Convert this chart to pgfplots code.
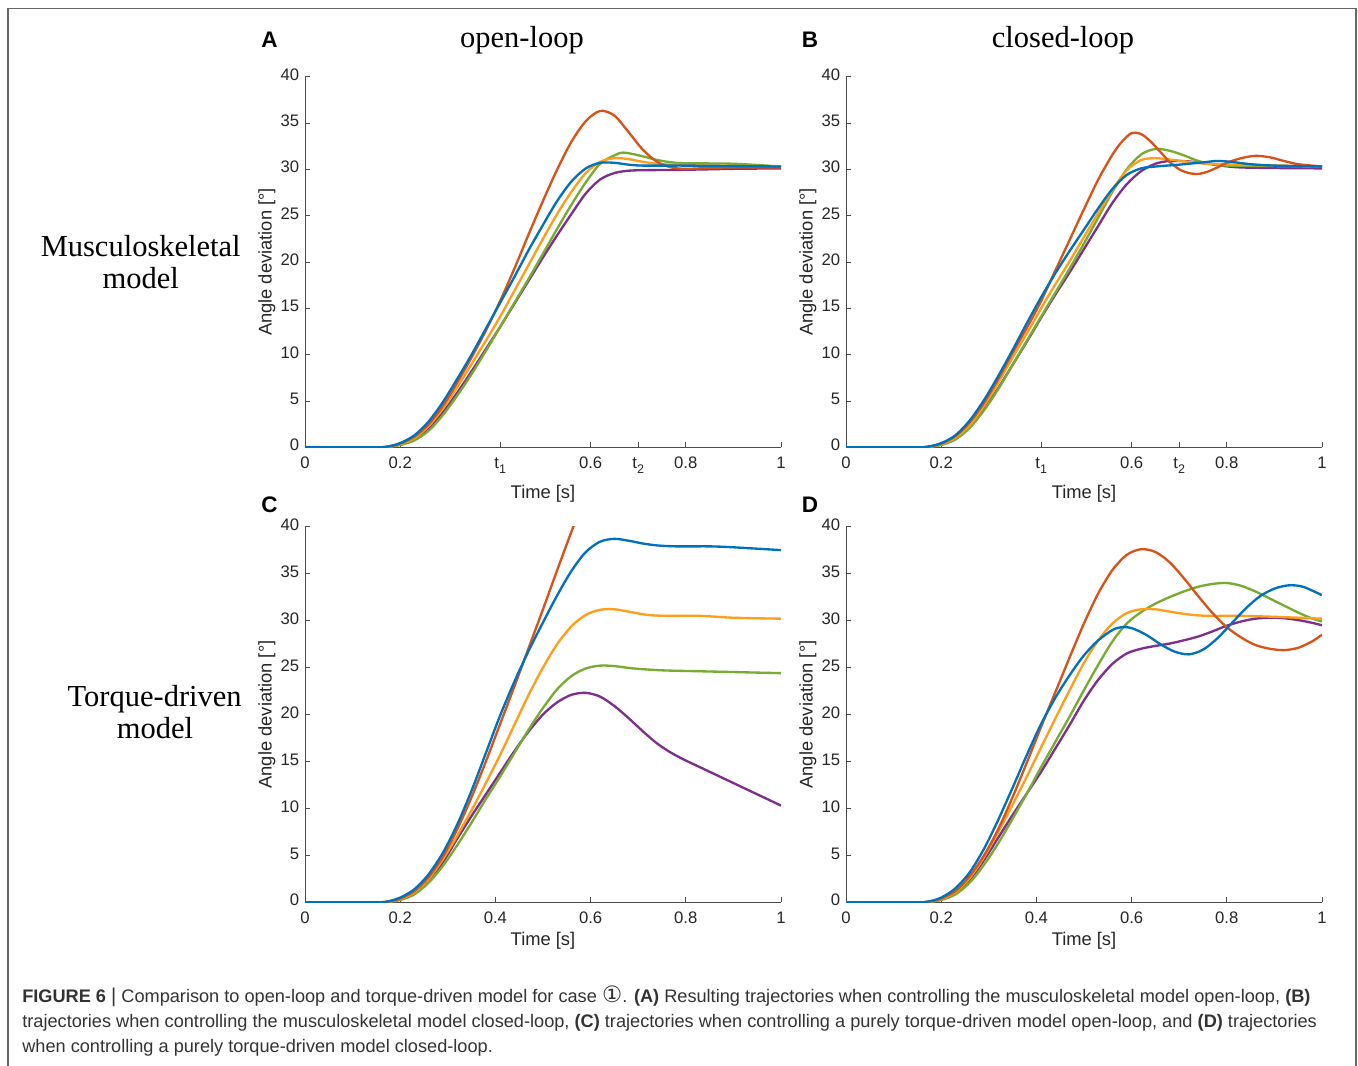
\documentclass[border=0pt]{standalone}
\usepackage{pgfplots}
\pgfplotsset{compat=1.18}
\usepackage{fontspec}
\setmainfont{Liberation Sans}
\newfontfamily\seriffont{Liberation Serif}
\newfontfamily\dejavu{DejaVu Sans}
\definecolor{mblue}{HTML}{0072BD}
\definecolor{mred}{HTML}{D95319}
\definecolor{morange}{HTML}{FF9E1B}
\definecolor{mpurple}{HTML}{7E2F8E}
\definecolor{mgreen}{HTML}{77AC30}
\newcommand{\p}[2]{({#1*0.6pt},{-#2*0.6pt})}
\newcommand{\tsub}[1]{t\raisebox{-0.55ex}{\fontsize{7.5}{8}\selectfont #1}}
\pgfplotsset{
  panel/.style={
    scale only axis, width=285.6pt,
    xmin=0, xmax=1, ymin=0, ymax=40,
    axis x line*=bottom, axis y line*=left,
    tick align=inside, major tick length=3pt,
    ytick={0,5,...,40},
    axis line style={draw=black!70, line width=0.55pt},
    tick style={draw=black!70, line width=0.55pt},
    ticklabel style={font=\fontsize{10}{11}\selectfont, text=black!85},
    xticklabel style={yshift=-1.5pt},
    typeset ticklabels with strut,
    /pgf/number format/assume math mode=true,
    xlabel={Time [s]}, ylabel={Angle deviation [°]},
    label style={font=\fontsize{11}{12}\selectfont, text=black!85},
    ylabel style={at={(axis description cs:-0.08,0.5)}, anchor=center},
    every axis plot/.append style={line width=1.4pt, smooth, no markers},
  },
  pab/.style={panel, height=222.4pt,
    xtick={0,0.2,0.41,0.6,0.7,0.8,1},
    xticklabels={0,0.2,\tsub{1},0.6,\tsub{2},0.8,1},
    xlabel style={at={(axis description cs:0.5,-0.124)}, anchor=center}},
  pcd/.style={panel, height=225.4pt,
    xtick={0,0.2,0.4,0.6,0.8,1},
    xlabel style={at={(axis description cs:0.5,-0.103)}, anchor=center}},
}
\begin{document}
\begin{tikzpicture}
\useasboundingbox (0,0) rectangle (814.8pt,-639.6pt);
\fill[white] (0,0) rectangle (814.8pt,-639.6pt);
\draw[black!60, line width=0.9pt] \p{8}{1066} -- \p{8}{8.5} -- \p{1356}{8.5} -- \p{1356}{1066};

% ---------------- A ----------------
\begin{axis}[pab, at={(183pt,-268.38pt)}, anchor=south west]
\addplot[mpurple] coordinates {(0,0) (0.14,0) (0.17,0.02) (0.2,0.3) (0.23,0.85) (0.26,2.0) (0.29,3.8) (0.32,5.9) (0.35,8.2) (0.38,10.6) (0.41,13.0) (0.44,15.5) (0.47,18.0) (0.50,20.5) (0.53,22.9) (0.56,25.2) (0.59,27.4) (0.62,28.9) (0.65,29.6) (0.68,29.85) (0.71,29.9) (0.8,29.95) (0.9,30.05) (1,30.1)};
\addplot[mgreen] coordinates {(0,0) (0.14,0) (0.17,0.02) (0.2,0.25) (0.23,0.75) (0.26,1.8) (0.29,3.5) (0.32,5.6) (0.35,7.9) (0.38,10.4) (0.41,13.0) (0.44,15.6) (0.47,18.2) (0.50,20.9) (0.53,23.6) (0.56,26.2) (0.59,28.6) (0.62,30.6) (0.65,31.5) (0.67,31.8) (0.71,31.4) (0.74,31.0) (0.77,30.75) (0.8,30.65) (0.9,30.6) (1,30.3)};
\addplot[morange] coordinates {(0,0) (0.14,0) (0.17,0.03) (0.2,0.35) (0.23,1.0) (0.26,2.3) (0.29,4.2) (0.32,6.5) (0.35,9.0) (0.38,11.5) (0.41,14.1) (0.44,16.9) (0.47,19.7) (0.50,22.5) (0.53,25.2) (0.56,27.6) (0.59,29.6) (0.62,30.8) (0.65,31.2) (0.68,31.1) (0.71,30.8) (0.74,30.6) (0.77,30.5) (0.85,30.4) (1,30.3)};
\addplot[mred] coordinates {(0,0) (0.14,0) (0.17,0.04) (0.2,0.4) (0.23,1.15) (0.26,2.5) (0.29,4.5) (0.32,7.0) (0.35,9.7) (0.38,12.6) (0.41,15.8) (0.44,19.3) (0.47,23.0) (0.50,26.6) (0.53,30.0) (0.56,33.0) (0.59,35.2) (0.62,36.3) (0.65,35.8) (0.68,34.0) (0.71,32.1) (0.74,30.8) (0.77,30.2) (0.80,30.05) (0.85,30.15) (0.9,30.2) (1,30.2)};
\addplot[mblue] coordinates {(0,0) (0.14,0) (0.17,0.05) (0.2,0.45) (0.23,1.3) (0.26,2.8) (0.29,4.9) (0.32,7.4) (0.35,10.0) (0.38,12.8) (0.41,15.6) (0.44,18.4) (0.47,21.3) (0.50,24.0) (0.53,26.6) (0.56,28.7) (0.59,30.1) (0.62,30.7) (0.65,30.7) (0.68,30.5) (0.71,30.4) (0.8,30.4) (0.9,30.35) (1,30.3)};
\end{axis}

% ---------------- B ----------------
\begin{axis}[pab, at={(507.6pt,-268.38pt)}, anchor=south west]
\addplot[mpurple] coordinates {(0,0) (0.14,0) (0.17,0.02) (0.2,0.3) (0.23,0.9) (0.26,2.2) (0.29,4.1) (0.32,6.4) (0.35,8.9) (0.38,11.4) (0.41,14.0) (0.44,16.5) (0.47,18.9) (0.50,21.4) (0.53,23.9) (0.56,26.4) (0.59,28.4) (0.62,29.8) (0.65,30.6) (0.68,30.9) (0.72,30.85) (0.76,30.6) (0.83,30.2) (1,30.1)};
\addplot[mgreen] coordinates {(0,0) (0.14,0) (0.17,0.02) (0.2,0.25) (0.23,0.85) (0.26,2.1) (0.29,4.0) (0.32,6.3) (0.35,8.9) (0.38,11.5) (0.41,14.1) (0.44,16.7) (0.47,19.3) (0.50,22.0) (0.53,24.8) (0.56,27.6) (0.59,30.0) (0.62,31.6) (0.65,32.2) (0.68,32.0) (0.71,31.5) (0.74,30.9) (0.77,30.55) (0.8,30.4) (0.9,30.35) (1,30.3)};
\addplot[morange] coordinates {(0,0) (0.14,0) (0.17,0.03) (0.2,0.35) (0.23,1.05) (0.26,2.4) (0.29,4.5) (0.32,7.0) (0.35,9.7) (0.38,12.3) (0.41,15.0) (0.44,17.6) (0.47,20.1) (0.50,22.7) (0.53,25.3) (0.56,27.8) (0.59,29.9) (0.62,31.0) (0.65,31.2) (0.68,31.05) (0.72,30.8) (0.76,30.6) (0.83,30.5) (1,30.3)};
\addplot[mred] coordinates {(0,0) (0.14,0) (0.17,0.04) (0.2,0.4) (0.23,1.2) (0.26,2.7) (0.29,4.8) (0.32,7.4) (0.35,10.2) (0.38,12.9) (0.41,15.8) (0.44,19.1) (0.47,22.4) (0.50,25.7) (0.53,28.9) (0.56,31.6) (0.58,33.0) (0.60,33.9) (0.62,33.8) (0.64,33.0) (0.66,31.9) (0.68,30.8) (0.70,30.0) (0.72,29.6) (0.74,29.5) (0.76,29.75) (0.78,30.2) (0.80,30.7) (0.83,31.2) (0.86,31.45) (0.89,31.3) (0.92,30.9) (0.95,30.55) (1,30.3)};
\addplot[mblue] coordinates {(0,0) (0.14,0) (0.17,0.05) (0.2,0.45) (0.23,1.3) (0.26,2.9) (0.29,5.1) (0.32,7.7) (0.35,10.5) (0.38,13.4) (0.41,16.2) (0.44,18.8) (0.47,21.2) (0.50,23.5) (0.53,25.8) (0.56,27.9) (0.59,29.4) (0.62,30.1) (0.65,30.3) (0.7,30.5) (0.75,30.75) (0.78,30.9) (0.81,30.8) (0.85,30.55) (0.9,30.4) (1,30.3)};
\end{axis}

% ---------------- C ----------------
\begin{axis}[pcd, at={(183pt,-541.38pt)}, anchor=south west]
\addplot[mpurple] coordinates {(0,0) (0.14,0) (0.17,0.02) (0.2,0.3) (0.23,1.0) (0.26,2.3) (0.29,4.3) (0.32,6.8) (0.35,9.2) (0.38,11.5) (0.41,13.8) (0.44,16.1) (0.47,18.2) (0.50,20.0) (0.53,21.3) (0.56,22.1) (0.59,22.3) (0.62,21.9) (0.65,20.9) (0.68,19.6) (0.71,18.2) (0.74,16.9) (0.77,15.9) (0.80,15.1) (0.85,13.9) (0.9,12.7) (0.95,11.5) (1,10.3)};
\addplot[mgreen] coordinates {(0,0) (0.14,0) (0.17,0.02) (0.2,0.25) (0.23,0.85) (0.26,2.1) (0.29,3.9) (0.32,6.1) (0.35,8.5) (0.38,11.0) (0.41,13.4) (0.44,15.9) (0.47,18.4) (0.50,20.7) (0.53,22.7) (0.56,24.1) (0.59,24.9) (0.62,25.2) (0.65,25.15) (0.69,24.9) (0.75,24.7) (0.83,24.6) (1,24.4)};
\addplot[morange] coordinates {(0,0) (0.14,0) (0.17,0.03) (0.2,0.35) (0.23,1.1) (0.26,2.5) (0.29,4.6) (0.32,7.1) (0.35,9.8) (0.38,12.7) (0.41,15.7) (0.44,18.9) (0.47,22.1) (0.50,25.0) (0.53,27.5) (0.56,29.4) (0.59,30.6) (0.62,31.15) (0.65,31.2) (0.68,30.95) (0.72,30.6) (0.76,30.5) (0.83,30.5) (0.9,30.3) (1,30.2)};
\addplot[mred] coordinates {(0,0) (0.14,0) (0.17,0.04) (0.2,0.4) (0.23,1.2) (0.26,2.7) (0.29,4.9) (0.32,7.8) (0.35,11.2) (0.38,15.0) (0.41,19.0) (0.44,23.0) (0.47,27.1) (0.50,31.2) (0.53,35.4) (0.56,39.5) (0.59,43.6)};
\addplot[mblue] coordinates {(0,0) (0.14,0) (0.17,0.05) (0.2,0.5) (0.23,1.4) (0.26,3.0) (0.29,5.3) (0.32,8.3) (0.35,11.9) (0.38,15.9) (0.41,19.9) (0.44,23.5) (0.47,26.8) (0.50,29.8) (0.53,32.7) (0.56,35.3) (0.59,37.3) (0.62,38.4) (0.65,38.7) (0.68,38.5) (0.71,38.2) (0.74,38.0) (0.78,37.9) (0.85,37.9) (0.9,37.8) (1,37.5)};
\end{axis}

% ---------------- D ----------------
\begin{axis}[pcd, at={(507.6pt,-541.38pt)}, anchor=south west]
\addplot[mpurple] coordinates {(0,0) (0.14,0) (0.17,0.02) (0.2,0.3) (0.23,1.0) (0.26,2.4) (0.29,4.5) (0.32,6.9) (0.35,9.3) (0.38,11.6) (0.41,13.9) (0.44,16.4) (0.47,18.9) (0.50,21.5) (0.53,23.7) (0.56,25.4) (0.59,26.5) (0.62,27.0) (0.65,27.3) (0.68,27.55) (0.71,27.9) (0.74,28.3) (0.77,28.85) (0.80,29.45) (0.83,29.9) (0.86,30.2) (0.89,30.3) (0.92,30.25) (0.95,30.05) (0.98,29.75) (1,29.5)};
\addplot[mgreen] coordinates {(0,0) (0.14,0) (0.17,0.02) (0.2,0.25) (0.23,0.85) (0.26,2.1) (0.29,4.0) (0.32,6.3) (0.35,8.9) (0.38,11.6) (0.41,14.4) (0.44,17.1) (0.47,19.8) (0.50,22.6) (0.53,25.3) (0.56,27.8) (0.59,29.7) (0.62,30.9) (0.65,31.8) (0.68,32.5) (0.71,33.1) (0.74,33.6) (0.77,33.9) (0.80,34.0) (0.83,33.7) (0.86,33.1) (0.89,32.35) (0.92,31.6) (0.95,30.85) (0.98,30.2) (1,29.9)};
\addplot[morange] coordinates {(0,0) (0.14,0) (0.17,0.03) (0.2,0.35) (0.23,1.1) (0.26,2.6) (0.29,4.8) (0.32,7.5) (0.35,10.4) (0.38,13.4) (0.41,16.5) (0.44,19.6) (0.47,22.6) (0.50,25.5) (0.53,27.9) (0.56,29.7) (0.59,30.8) (0.62,31.2) (0.65,31.2) (0.68,30.95) (0.72,30.65) (0.76,30.5) (0.83,30.5) (0.9,30.4) (1,30.2)};
\addplot[mred] coordinates {(0,0) (0.14,0) (0.17,0.04) (0.2,0.4) (0.23,1.2) (0.26,2.8) (0.29,5.0) (0.32,7.8) (0.35,11.2) (0.38,14.9) (0.41,18.7) (0.44,22.4) (0.47,26.1) (0.50,29.7) (0.53,32.9) (0.56,35.4) (0.59,37.0) (0.62,37.6) (0.65,37.3) (0.68,36.2) (0.71,34.5) (0.74,32.6) (0.77,30.8) (0.80,29.3) (0.83,28.2) (0.86,27.4) (0.89,27.0) (0.92,26.85) (0.95,27.1) (0.98,27.8) (1,28.5)};
\addplot[mblue] coordinates {(0,0) (0.14,0) (0.17,0.05) (0.2,0.5) (0.23,1.5) (0.26,3.2) (0.29,5.7) (0.32,8.8) (0.35,12.2) (0.38,15.7) (0.41,19.0) (0.44,21.8) (0.47,24.2) (0.50,26.3) (0.53,27.9) (0.56,29.0) (0.58,29.3) (0.60,29.2) (0.63,28.5) (0.66,27.5) (0.69,26.7) (0.72,26.4) (0.75,26.9) (0.78,28.1) (0.81,29.7) (0.84,31.3) (0.87,32.6) (0.90,33.4) (0.93,33.75) (0.96,33.6) (1,32.7)};
\end{axis}

% ---------------- texts ----------------
\begin{scope}[every node/.style={inner sep=0pt}]
\node[font=\fontsize{13.5}{14}\selectfont\bfseries] at \p{269.5}{39.5} {A};
\node[font=\fontsize{13.5}{14}\selectfont\bfseries] at \p{810}{39.5} {B};
\node[font=\fontsize{13.5}{14}\selectfont\bfseries] at \p{269.5}{504.5} {C};
\node[font=\fontsize{13.5}{14}\selectfont\bfseries] at \p{810}{504.5} {D};
\node[anchor=base, font=\seriffont\fontsize{18.3}{20}\selectfont] at \p{522}{47} {open-loop};
\node[anchor=base, font=\seriffont\fontsize{18.3}{20}\selectfont] at \p{1063}{47} {closed-loop};
\node[anchor=base east, font=\seriffont\fontsize{18.3}{20}\selectfont] at \p{241}{256.7} {Musculoskeletal};
\node[anchor=base, font=\seriffont\fontsize{18.3}{20}\selectfont] at \p{140.7}{288.3} {model};
\node[anchor=base east, font=\seriffont\fontsize{18.3}{20}\selectfont] at \p{242}{706.5} {Torque-driven};
\node[anchor=base, font=\seriffont\fontsize{18.3}{20}\selectfont] at \p{155}{738} {model};
\node[anchor=base west, font=\fontsize{10.9}{12}\selectfont, text=black!80] at \p{22}{1002} {\textbf{FIGURE 6} {\fontsize{12}{12}\selectfont|} Comparison to open-loop and torque-driven model for case {\dejavu\fontsize{13.5}{12}\selectfont ①}. \textbf{(A)} Resulting trajectories when controlling the musculoskeletal model open-loop, \textbf{(B)}};
\node[anchor=base west, font=\fontsize{10.9}{12}\selectfont, text=black!80] at \p{22}{1027} {trajectories when controlling the musculoskeletal model closed-loop, \textbf{(C)} trajectories when controlling a purely torque-driven model open-loop, and \textbf{(D)} trajectories};
\node[anchor=base west, font=\fontsize{10.9}{12}\selectfont, text=black!80] at \p{22}{1052} {when controlling a purely torque-driven model closed-loop.};
\end{scope}
\end{tikzpicture}
\end{document}
